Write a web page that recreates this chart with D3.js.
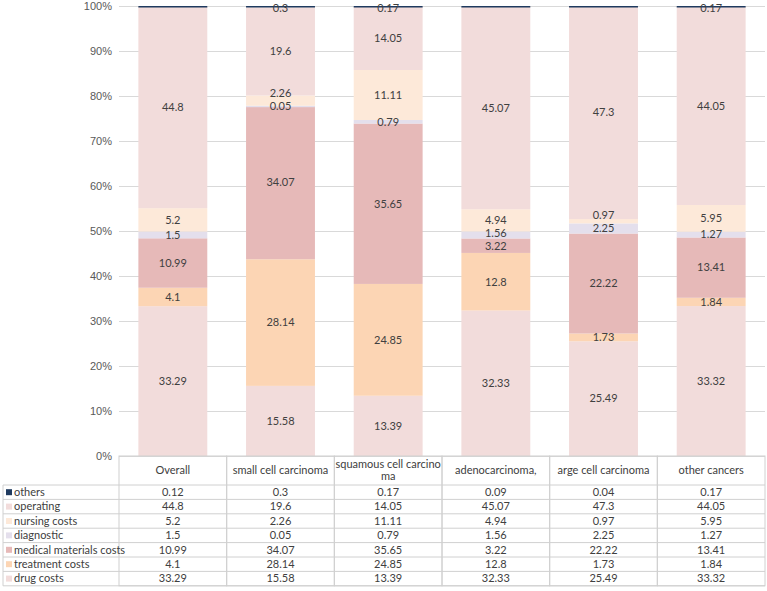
<!DOCTYPE html>
<html>
<head>
<meta charset="utf-8">
<script src="https://cdn.jsdelivr.net/npm/d3@7"></script>
<style>
  body { margin: 0; background: #fff; }
  svg { display: block; font-family: Lato, "Noto Sans", "DejaVu Sans", sans-serif; }
</style>
</head>
<body>
<div id="chart"></div>
<script>
// 数据
const categories = ["Overall", "small cell carcinoma", "squamous cell carcino\nma", "adenocarcinoma,", "arge cell carcinoma", "other cancers"];
const seriesNames = ["drug costs", "treatment costs", "medical materials costs", "diagnostic", "nursing costs", "operating", "others"];
const drugCosts = [33.29, 15.58, 13.39, 32.33, 25.49, 33.32];
const treatmentCosts = [4.1, 28.14, 24.85, 12.8, 1.73, 1.84];
const medicalMaterials = [10.99, 34.07, 35.65, 3.22, 22.22, 13.41];
const diagnostic = [1.5, 0.05, 0.79, 1.56, 2.25, 1.27];
const nursingCosts = [5.2, 2.26, 11.11, 4.94, 0.97, 5.95];
const operating = [44.8, 19.6, 14.05, 45.07, 47.3, 44.05];
const others = [0.12, 0.3, 0.17, 0.09, 0.04, 0.17];
const yTicks = [0, 0.1, 0.2, 0.3, 0.4, 0.5, 0.6, 0.7, 0.8, 0.9, 1];

const seriesValues = [drugCosts, treatmentCosts, medicalMaterials, diagnostic, nursingCosts, operating, others];
const colors = ["#f2dcdb", "#fcd5b4", "#e6b9b8", "#e4dfec", "#fde9d9", "#f2dcdb", "#1f3a5f"];

const width = 767, height = 591;
const plotLeft = 119, plotRight = 765, plotTop = 6, plotBottom = 456;
const headerBottom = 485, rowH = 14.4, tableLeft = 3;

const svg = d3.select('#chart').append('svg')
    .attr('width', width)
    .attr('height', height);

// 堆叠数据
const rows = categories.map((c, i) => {
    const r = { cat: c };
    seriesNames.forEach((s, k) => r[s] = seriesValues[k][i]);
    return r;
});
const stacked = d3.stack().keys(seriesNames).offset(d3.stackOffsetExpand)(rows);

const x = d3.scaleBand().domain(categories).range([plotLeft, plotRight]).paddingInner(0.36).paddingOuter(0.18);
const y = d3.scaleLinear().domain([0, 1]).range([plotBottom, plotTop]);
const band = d3.scaleBand().domain(categories).range([plotLeft, plotRight]);

// 网格线和y轴
const yAxis = svg.append('g')
    .attr('transform', `translate(${plotLeft},0)`)
    .call(d3.axisLeft(y).tickValues(yTicks).tickFormat(d3.format('.0%')).tickSize(-(plotRight - plotLeft)).tickPadding(7));
yAxis.select('.domain').remove();
yAxis.selectAll('.tick line').attr('stroke', '#d9d9d9');
yAxis.selectAll('.tick text').attr('fill', '#595959').attr('font-size', 11);

// 柱子
const layer = svg.append('g').selectAll('g')
    .data(stacked)
    .enter().append('g')
    .attr('fill', (d, i) => colors[i]);

layer.selectAll('rect')
    .data(d => d)
    .enter().append('rect')
    .attr('x', d => x(d.data.cat))
    .attr('width', x.bandwidth())
    .attr('y', d => y(d[1]))
    .attr('height', d => Math.max(y(d[0]) - y(d[1]), 1.5));

// 数据标签（自下而上，避免重叠）
const labels = [];
categories.forEach((c, i) => {
    let lastY = Infinity;
    stacked.forEach(s => {
        const d = s[i];
        const v = d.data[s.key];
        if (s.key === 'others' && v < 0.15) return;
        let ly = y((d[0] + d[1]) / 2);
        if (ly > lastY - 13) ly = lastY - 13;
        ly = Math.max(ly, 8);
        lastY = ly;
        labels.push({ x: x(c) + x.bandwidth() / 2, y: ly, text: v });
    });
});
svg.append('g').selectAll('text')
    .data(labels)
    .enter().append('text')
    .attr('x', d => d.x)
    .attr('y', d => d.y)
    .attr('dy', '0.35em')
    .attr('text-anchor', 'middle')
    .attr('font-size', 11)
    .attr('fill', '#404040')
    .text(d => d.text);

// 数据表
const table = svg.append('g');
const lineColor = '#d0d0d0';
const tableBottom = headerBottom + rowH * seriesNames.length;

// 表头
band.domain().forEach(c => {
    const bx = band(c);
    table.append('rect')
        .attr('x', bx).attr('y', plotBottom)
        .attr('width', band.bandwidth()).attr('height', tableBottom - plotBottom)
        .attr('fill', 'none').attr('stroke', lineColor);
    const lines = c.split('\n');
    const t = table.append('text')
        .attr('x', bx + band.bandwidth() / 2)
        .attr('y', (plotBottom + headerBottom) / 2 - (lines.length - 1) * 6)
        .attr('text-anchor', 'middle')
        .attr('font-size', 11)
        .attr('fill', '#404040');
    lines.forEach((l, i) => t.append('tspan')
        .attr('x', bx + band.bandwidth() / 2)
        .attr('dy', i === 0 ? '0.35em' : 12)
        .text(l));
});

// 行（从上到下: others ... drug costs）
const tableOrder = seriesNames.map((s, k) => k).reverse();
tableOrder.forEach((k, r) => {
    const ry = headerBottom + r * rowH;
    table.append('line')
        .attr('x1', tableLeft).attr('x2', plotRight)
        .attr('y1', ry).attr('y2', ry)
        .attr('stroke', lineColor);
    table.append('rect')
        .attr('x', tableLeft + 3).attr('y', ry + rowH / 2 - 3)
        .attr('width', 6).attr('height', 6)
        .attr('fill', colors[k]);
    table.append('text')
        .attr('x', tableLeft + 11).attr('y', ry + rowH / 2)
        .attr('dy', '0.35em')
        .attr('font-size', 11)
        .attr('fill', '#404040')
        .text(seriesNames[k]);
    categories.forEach((c, i) => {
        table.append('text')
            .attr('x', band(c) + band.bandwidth() / 2).attr('y', ry + rowH / 2)
            .attr('dy', '0.35em')
            .attr('text-anchor', 'middle')
            .attr('font-size', 11)
            .attr('fill', '#404040')
            .text(seriesValues[k][i]);
    });
});
table.append('line')
    .attr('x1', tableLeft).attr('x2', plotRight)
    .attr('y1', tableBottom).attr('y2', tableBottom)
    .attr('stroke', lineColor);
table.append('line')
    .attr('x1', tableLeft).attr('x2', tableLeft)
    .attr('y1', headerBottom).attr('y2', tableBottom)
    .attr('stroke', lineColor);
</script>
</body>
</html>
